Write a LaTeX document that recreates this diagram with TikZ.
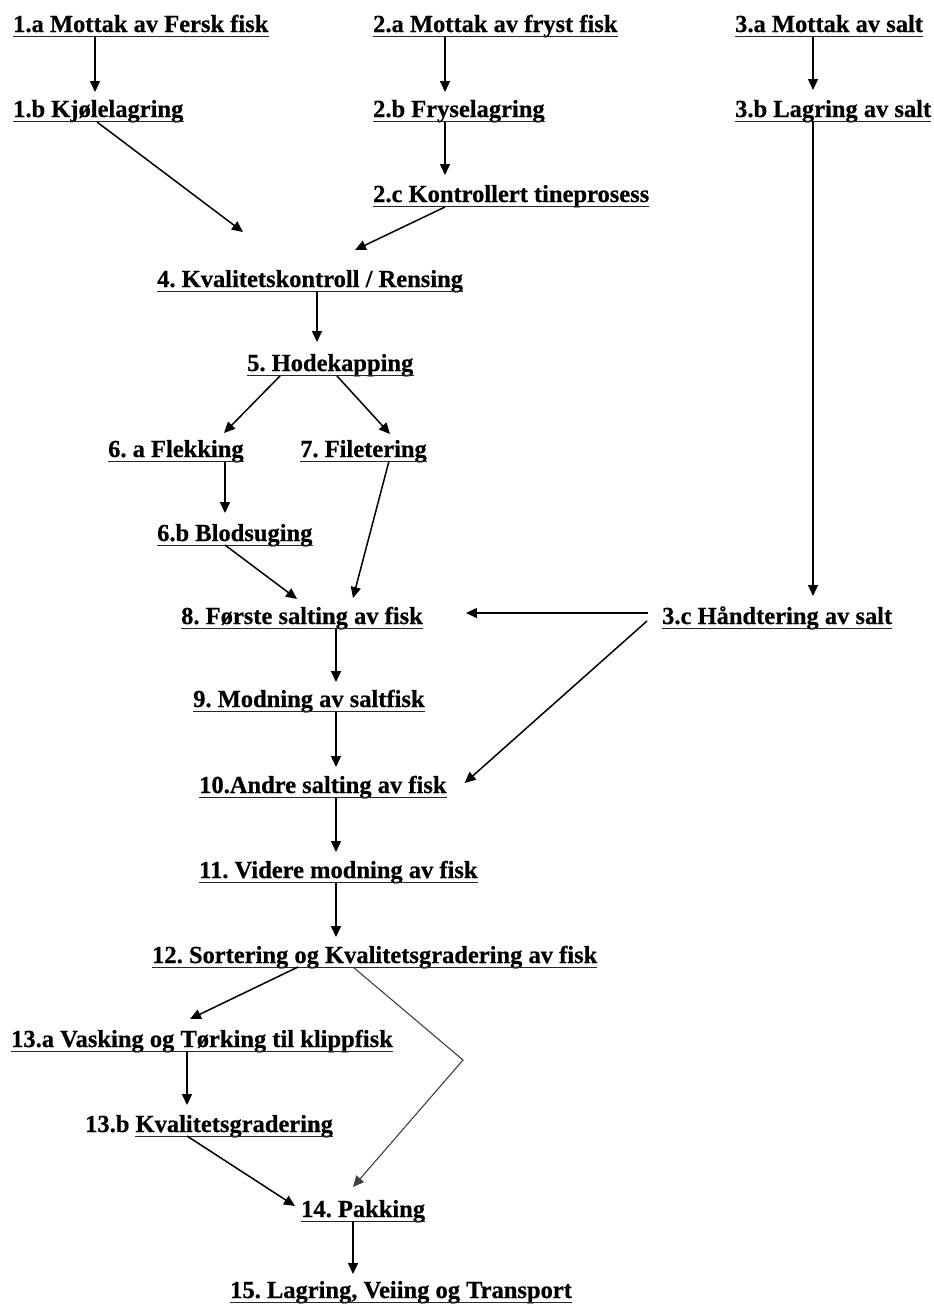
\documentclass[tikz,border=0pt]{standalone}
\usepackage{fontspec}
\setmainfont{Liberation Serif}
\newfontfamily\lblfam{Liberation Serif Bold}[FakeBold=0.6]
\usetikzlibrary{arrows.meta,calc}
\newcommand\lblfont{\fontsize{24.5pt}{28pt}\selectfont\lblfam\frenchspacing}
\tikzset{
  stepbox/.style={inner sep=0pt, anchor=base west, font=\lblfont, text=black},
  arr/.style={-{Triangle[length=11pt,width=10pt]}, line width=1.5pt, draw=black},
  thinarr/.style={-{Triangle[length=11pt,width=10pt]}, line width=1.1pt, draw=black!75},
  uline/.style={line width=1.6pt, draw=black!85},
}
\begin{document}
\begin{tikzpicture}[x=1pt,y=-1pt]
\useasboundingbox[fill=white] (0,0) rectangle (934,1304);
% nodes
\node[stepbox] (a1) at (13,32) {1.a Mottak av Fersk fisk};
\node[stepbox] (a2) at (373,32) {2.a Mottak av fryst fisk};
\node[stepbox] (a3) at (735,32) {3.a Mottak av salt};
\node[stepbox] (b1) at (13,117) {1.b Kjølelagring};
\node[stepbox] (b2) at (373,117) {2.b Fryselagring};
\node[stepbox] (b3) at (735,117) {3.b Lagring av salt};
\node[stepbox] (c2) at (373,202) {2.c Kontrollert tineprosess};
\node[stepbox] (n4) at (157,287) {4. Kvalitetskontroll / Rensing};
\node[stepbox] (n5) at (247,371) {5. Hodekapping};
\node[stepbox] (n6a) at (108,457) {6. a Flekking};
\node[stepbox] (n7) at (300,457) {7. Filetering};
\node[stepbox] (n6b) at (157,541) {6.b Blodsuging};
\node[stepbox] (n8) at (181,624) {8. Første salting av fisk};
\node[stepbox] (c3) at (662,624) {3.c Håndtering av salt};
\node[stepbox] (n9) at (193,707) {9. Modning av saltfisk};
\node[stepbox] (n10) at (199,793) {10.Andre salting av fisk};
\node[stepbox] (n11) at (199,878) {11. Videre modning av fisk};
\node[stepbox] (n12) at (152,963) {12. Sortering og Kvalitetsgradering av fisk};
\node[stepbox] (n13a) at (11,1047) {13.a Vasking og Tørking til klippfisk};
\node[stepbox] (n13b) at (85,1132) {13.b Kvalitetsgradering};
\node[stepbox] (n14) at (301,1217) {14. Pakking};
\node[stepbox] (n15) at (230,1298) {15. Lagring, Veiing og Transport};
% underlines
\foreach \n in {a1,a2,a3,b1,b2,b3,c2,n4,n5,n6a,n7,n6b,n8,c3,n9,n10,n11,n12,n13a,n14,n15}
  \draw[uline] ([yshift=-4.5pt]\n.base west) -- ([yshift=-4.5pt]\n.base east);
\draw[uline] ([xshift=50.4pt,yshift=-4.5pt]n13b.base west) -- ([yshift=-4.5pt]n13b.base east);
% connectors
\draw[arr] ($(a1.base west)+(82,5)$) -- ($(b1.base west)+(82,-25)$);
\draw[arr] ($(b1.base west)+(84,5)$) -- ($(n4.base west)+(86,-55)$);
\draw[arr] ($(a2.base west)+(72,5)$) -- ($(b2.base west)+(72,-25)$);
\draw[arr] ($(b2.base west)+(72,5)$) -- ($(c2.base west)+(72,-27)$);
\draw[arr] ($(c2.base west)+(72,5)$) -- ($(n4.base west)+(198,-37)$);
\draw[arr] ($(a3.base west)+(78,5)$) -- ($(b3.base west)+(78,-27)$);
\draw[arr] ($(b3.base west)+(78,5)$) -- ($(c3.base west)+(151,-28)$);
\draw[arr] ($(n4.base west)+(160,5)$) -- ($(n5.base west)+(70,-29)$);
\draw[arr] ($(n5.base west)+(33,5)$) -- ($(n6a.base west)+(116,-24)$);
\draw[arr] ($(n5.base west)+(90,5)$) -- ($(n7.base west)+(90,-23)$);
\draw[arr] ($(n6a.base west)+(117,5)$) -- ($(n6b.base west)+(68,-28)$);
\draw[arr] ($(n7.base west)+(89,4)$) -- ($(n8.base west)+(172,-26)$);
\draw[arr] ($(n6b.base west)+(68,4)$) -- ($(n8.base west)+(116,-25)$);
\draw[arr] ($(c3.base west)+(-14,-11)$) -- ($(n8.base east)+(43,-11)$);
\draw[arr] ($(c3.base west)+(-15,-3)$) -- ($(n10.base east)+(18,-10)$);
\draw[arr] ($(n8.base west)+(155,5)$) -- ($(n9.base west)+(143,-25)$);
\draw[arr] ($(n9.base west)+(143,5)$) -- ($(n10.base west)+(137,-26)$);
\draw[arr] ($(n10.base west)+(137,5)$) -- ($(n11.base west)+(137,-26)$);
\draw[arr] ($(n11.base west)+(137,5)$) -- ($(n12.base west)+(184,-26)$);
\draw[arr] ($(n12.base west)+(146,4)$) -- ($(n13a.base west)+(179,-28)$);
\coordinate (bend) at ($(n12.base west)+(311,97)$);
\draw[thinarr] ($(n12.base west)+(201,4)$) -- (bend) -- ($(n14.base west)+(52,-30)$);
\draw[arr] ($(n13a.base west)+(176,5)$) -- ($(n13b.base west)+(102,-27)$);
\draw[arr] ($(n13b.base west)+(102,4)$) -- ($(n14.base west)+(-6,-11)$);
\draw[arr] ($(n14.base west)+(52,4)$) -- ($(n15.base west)+(123,-24)$);
\end{tikzpicture}
\end{document}
